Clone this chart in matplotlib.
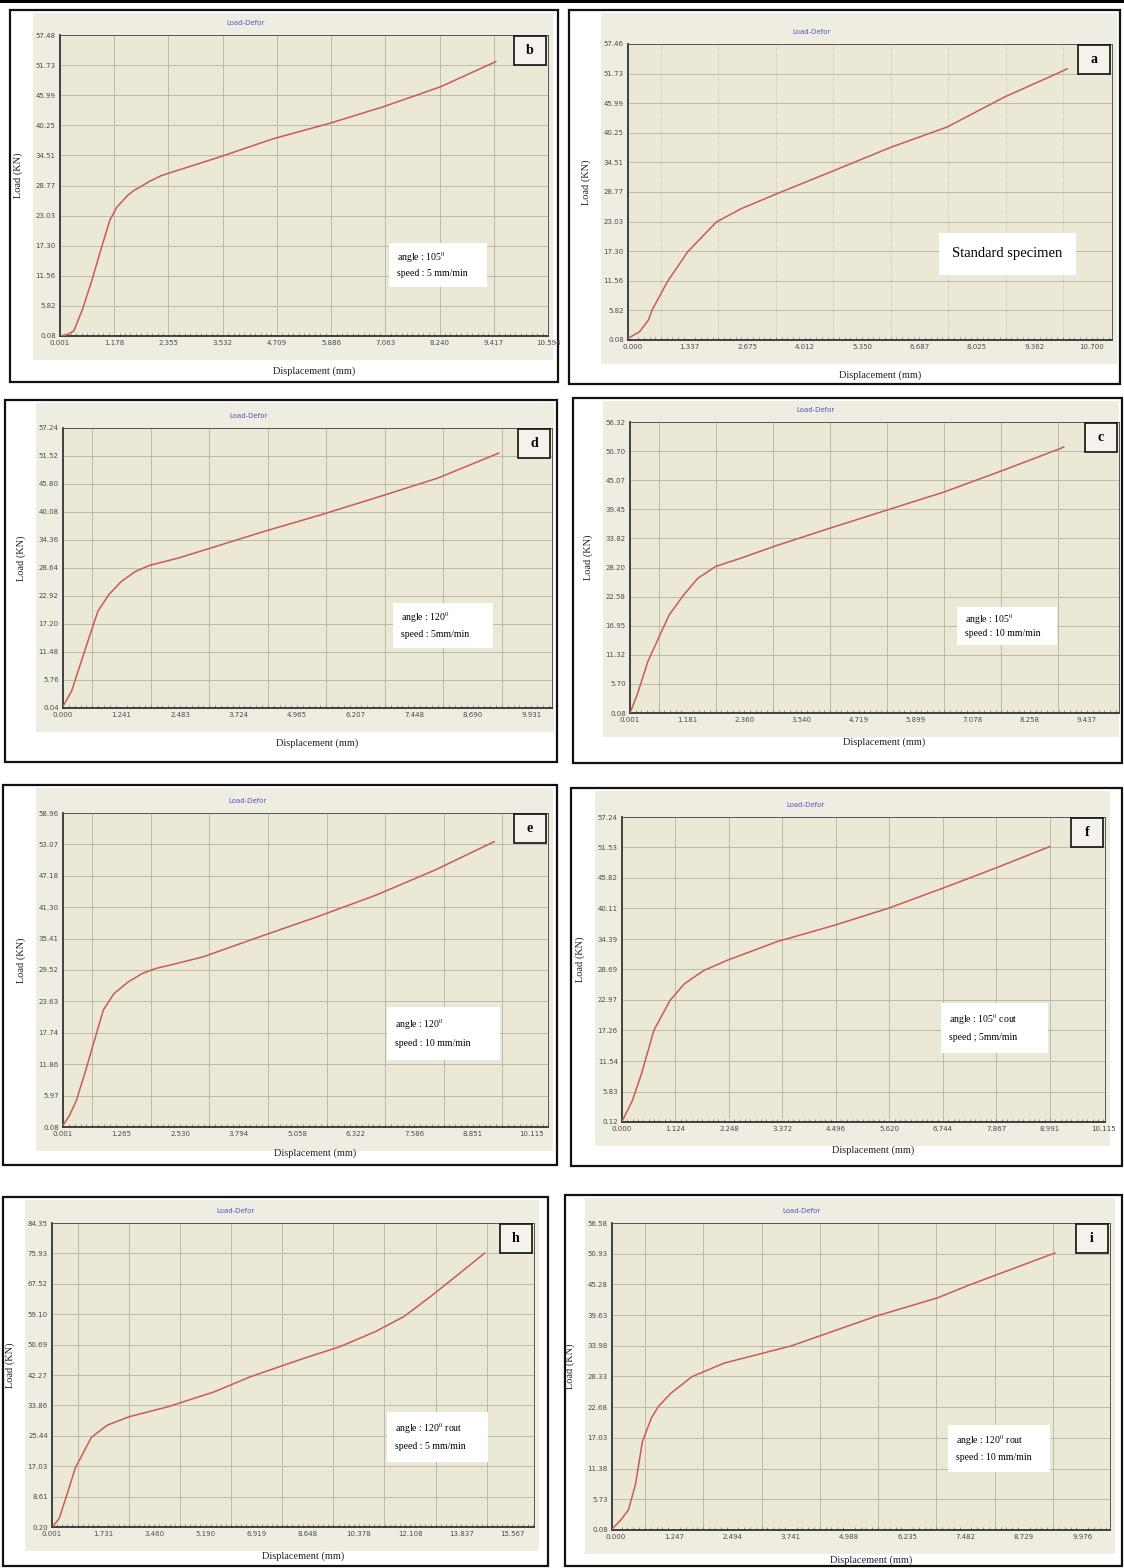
import matplotlib
matplotlib.use('Agg')
import matplotlib.pyplot as plt
from matplotlib.patches import Rectangle
from matplotlib.ticker import FixedLocator

plt.rcParams['font.family'] = ['Liberation Serif', 'DejaVu Serif']
plt.rcParams['mathtext.fontset'] = 'stix'

W, H = 1124, 1568

## Data: displacement (mm) / load (KN) ##
x_a = [-0.10, 0.17, 0.375, 0.46, 0.83, 1.29, 1.96, 2.54, 3.375, 4.71, 6.04, 7.33, 8.67, 9.96, 10.125]
y_a = [0.40, 1.69, 3.95, 5.88, 11.56, 17.17, 22.97, 25.55, 28.46, 32.97, 37.5, 41.36, 47.2, 52.0, 52.65]

x_b = [0.001, 0.15, 0.30, 0.49, 0.69, 0.88, 1.08, 1.23, 1.47, 1.60, 1.74, 1.95, 2.21, 3.46, 4.63, 5.84, 7.02, 8.26, 9.46]
y_b = [0.08, 0.30, 1.04, 5.18, 10.6, 16.3, 22.1, 24.6, 26.9, 27.8, 28.5, 29.6, 30.7, 34.2, 37.7, 40.6, 43.8, 47.6, 52.4]

x_c = [0.001, 0.15, 0.37, 0.59, 0.81, 1.11, 1.40, 1.77, 2.29, 2.95, 4.13, 5.31, 6.49, 7.71, 8.89, 8.96]
y_c = [0.08, 3.62, 10.04, 14.55, 19.04, 22.9, 26.1, 28.4, 30.0, 32.2, 35.8, 39.3, 42.8, 47.0, 51.2, 51.5]

x_d = [0.0, 0.18, 0.365, 0.55, 0.74, 0.97, 1.24, 1.54, 1.84, 2.45, 3.02, 4.27, 5.48, 6.73, 7.95, 9.16, 9.24]
y_d = [0.38, 3.44, 8.89, 14.34, 19.79, 23.19, 25.92, 27.96, 29.19, 30.68, 32.38, 36.13, 39.53, 43.28, 47.02, 51.79, 52.13]

x_e = [0.0, 0.14, 0.29, 0.49, 0.68, 0.87, 1.10, 1.41, 1.72, 2.00, 2.34, 3.03, 4.26, 5.49, 6.77, 8.04, 9.31]
y_e = [0.38, 2.26, 5.08, 10.72, 16.36, 22.0, 25.1, 27.3, 28.9, 29.8, 30.5, 32.0, 35.8, 39.5, 43.6, 48.3, 53.6]

x_f = [0.0, 0.22, 0.41, 0.67, 1.01, 1.31, 1.72, 2.21, 3.26, 4.46, 5.58, 6.71, 7.83, 8.99]
y_f = [0.2, 4.18, 9.17, 17.29, 22.9, 26.0, 28.5, 30.4, 33.9, 36.95, 40.1, 43.8, 47.6, 51.7]

x_h = [0.04, 0.24, 0.48, 0.79, 1.33, 1.87, 2.60, 3.93, 5.50, 6.71, 8.52, 9.73, 10.94, 11.91, 12.88, 13.72, 14.63]
y_h = [0.48, 2.51, 8.52, 16.57, 25.0, 28.4, 30.7, 33.5, 37.65, 41.8, 46.9, 50.1, 54.3, 58.5, 64.5, 70.0, 76.0]

x_i = [-0.08, 0.11, 0.27, 0.42, 0.57, 0.76, 0.91, 1.18, 1.63, 2.32, 3.76, 4.33, 5.59, 6.88, 7.57, 8.10, 9.39]
y_i = [0.26, 1.92, 3.76, 8.37, 16.35, 20.65, 22.8, 25.25, 28.3, 30.8, 33.98, 35.7, 39.5, 42.8, 45.2, 46.9, 51.05]

## Tick labels ##
xt_a = ['0.000', '1.337', '2.675', '4.012', '5.350', '6.687', '8.025', '9.362', '10.700']
yt_a = ['0.08', '5.82', '11.56', '17.30', '23.03', '28.77', '34.51', '40.25', '45.99', '51.73', '57.46']
xt_b = ['0.001', '1.178', '2.355', '3.532', '4.709', '5.886', '7.063', '8.240', '9.417', '10.594']
yt_b = ['0.08', '5.82', '11.56', '17.30', '23.03', '28.77', '34.51', '40.25', '45.99', '51.73', '57.48']
xt_c = ['0.001', '1.181', '2.360', '3.540', '4.719', '5.899', '7.078', '8.258', '9.437']
yt_c = ['0.08', '5.70', '11.32', '16.95', '22.58', '28.20', '33.82', '39.45', '45.07', '50.70', '56.32']
xt_d = ['0.000', '1.241', '2.483', '3.724', '4.965', '6.207', '7.448', '8.690', '9.931']
yt_d = ['0.04', '5.76', '11.48', '17.20', '22.92', '28.64', '34.36', '40.08', '45.80', '51.52', '57.24']
xt_e = ['0.001', '1.265', '2.530', '3.794', '5.058', '6.322', '7.586', '8.851', '10.115']
yt_e = ['0.08', '5.97', '11.86', '17.74', '23.63', '29.52', '35.41', '41.30', '47.18', '53.07', '58.96']
xt_f = ['0.000', '1.124', '2.248', '3.372', '4.496', '5.620', '6.744', '7.867', '8.991', '10.115']
yt_f = ['0.12', '5.83', '11.54', '17.26', '22.97', '28.69', '34.39', '40.11', '45.82', '51.53', '57.24']
xt_h = ['0.001', '1.731', '3.460', '5.190', '6.919', '8.648', '10.378', '12.108', '13.837', '15.567']
yt_h = ['0.20', '8.61', '17.03', '25.44', '33.86', '42.27', '50.69', '59.10', '67.52', '75.93', '84.35']
xt_i = ['0.000', '1.247', '2.494', '3.741', '4.988', '6.235', '7.482', '8.729', '9.976']
yt_i = ['0.08', '5.73', '11.38', '17.03', '22.68', '28.33', '33.98', '39.63', '45.28', '50.93', '56.58']

tags = ['a', 'b', 'c', 'd', 'e', 'f', 'h', 'i']
notes = {
    'a': ['Standard specimen'],
    'b': ['angle : 105$^{0}$', 'speed : 5 mm/min'],
    'c': ['angle : 105$^{0}$', 'speed : 10 mm/min'],
    'd': ['angle : 120$^{0}$', 'speed : 5mm/min'],
    'e': ['angle : 120$^{0}$', 'speed : 10 mm/min'],
    'f': ['angle : 105$^{0}$ cout', 'speed ; 5mm/min'],
    'h': ['angle : 120$^{0}$ rout', 'speed : 5 mm/min'],
    'i': ['angle : 120$^{0}$ rout', 'speed : 10 mm/min'],
}

series = {'a': (x_a, y_a, xt_a, yt_a), 'b': (x_b, y_b, xt_b, yt_b),
          'c': (x_c, y_c, xt_c, yt_c), 'd': (x_d, y_d, xt_d, yt_d),
          'e': (x_e, y_e, xt_e, yt_e), 'f': (x_f, y_f, xt_f, yt_f),
          'h': (x_h, y_h, xt_h, yt_h), 'i': (x_i, y_i, xt_i, yt_i)}

## Layout in image pixels ##
# box, plot area, x range, grid between labels?, note box
layout = {
    'b': dict(box=(10, 10, 558, 382), ax=(60, 35, 548, 336), xlim=(0.001, 10.594), mid=False,
              note=(389, 243, 487, 287), xlab=371),
    'a': dict(box=(569, 10, 1120, 384), ax=(628, 44, 1112, 340), xlim=(-0.10, 11.17), mid=True,
              note=(939, 233, 1076, 275), xlab=375),
    'd': dict(box=(5, 400, 557, 762), ax=(63, 428, 552, 708), xlim=(0.0, 10.37), mid=True,
              note=(393, 603, 493, 648), xlab=743),
    'c': dict(box=(573, 398, 1122, 763), ax=(630, 422, 1119, 713), xlim=(0.001, 10.1), mid=True,
              note=(957, 607, 1057, 645), xlab=742),
    'e': dict(box=(3, 785, 557, 1165), ax=(63, 813, 548, 1127), xlim=(0.0, 10.47), mid=True,
              note=(387, 1007, 500, 1060), xlab=1153),
    'f': dict(box=(571, 788, 1122, 1166), ax=(622, 817, 1105, 1122), xlim=(0.0, 10.15), mid=False,
              note=(941, 1003, 1048, 1053), xlab=1150),
    'h': dict(box=(3, 1197, 548, 1566), ax=(52, 1223, 534, 1527), xlim=(0.0, 16.3), mid=True,
              note=(387, 1412, 488, 1462), xlab=1556),
    'i': dict(box=(565, 1195, 1122, 1566), ax=(612, 1223, 1110, 1530), xlim=(-0.08, 10.57), mid=True,
              note=(948, 1425, 1050, 1472), xlab=1560),
}

beige = '#ebe8d6'
beige_out = '#efede2'
red = '#c85c52'


def fr(x0, y0, x1, y1):
    return [x0 / W, 1 - y1 / H, (x1 - x0) / W, (y1 - y0) / H]


def add_rect(x0, y0, x1, y1, z, **kw):
    r = fr(x0, y0, x1, y1)
    fig.patches.append(Rectangle((r[0], r[1]), r[2], r[3], transform=fig.transFigure,
                                 zorder=z, **kw))


fig = plt.figure(figsize=(W / 100, H / 100), dpi=100)
fig.patch.set_facecolor('white')
# black rule along the top of the page
add_rect(0, 0, W, 3, 0, facecolor='black', edgecolor='none')

for k in tags:
    L = layout[k]
    xs, ys, xt, yt = series[k]
    bx0, by0, bx1, by1 = L['box']
    ax0, ay0, ax1, ay1 = L['ax']

    # panel frame and chart background
    add_rect(bx0, by0, bx1, by1, 0, facecolor='white', edgecolor='#111111', lw=1.6)
    add_rect(ax0 - 27, by0 + 3, min(ax1 + 5, bx1 - 3), ay1 + 24, 0.5,
             facecolor=beige_out, edgecolor='none')

    ax = fig.add_axes(fr(ax0, ay0, ax1, ay1))
    ax.set_zorder(2)
    ax.set_facecolor(beige)
    xv = [float(s) for s in xt]
    yv = [float(s) for s in yt]
    ax.plot(xs, ys, color=red, lw=1.1, zorder=3, solid_joinstyle='round')
    ax.set_xlim(*L['xlim'])
    ax.set_ylim(yv[0], yv[-1])

    ax.set_xticks(xv)
    ax.set_xticklabels(xt)
    ax.set_yticks(yv)
    ax.set_yticklabels(yt)
    ax.tick_params(axis='both', length=0, labelsize=5, labelcolor='#4a4a4a', pad=3)
    # small inward minor ticks along the bottom axis
    step = xv[1] - xv[0]
    ax.xaxis.set_minor_locator(FixedLocator([xv[0] + step * j / 10 for j in range(-2, 10 * len(xv) + 10)]))
    ax.tick_params(axis='x', which='minor', direction='in', length=2, width=0.5, color='#666666')
    for t in ax.get_xticklabels() + ax.get_yticklabels():
        t.set_family('DejaVu Sans')

    # grid
    gx = [(xv[j] + xv[j + 1]) / 2 for j in range(len(xv) - 1)] if L['mid'] else xv[1:-1]
    ls = ':' if k == 'a' else '-'
    for g in gx:
        if L['xlim'][0] < g < L['xlim'][1]:
            ax.axvline(g, color='#b4b4a4', lw=0.6, ls=ls, zorder=1)
    for g in yv[1:-1]:
        ax.axhline(g, color='#b4b4a4', lw=0.6, zorder=1)

    for s in ['left', 'bottom']:
        ax.spines[s].set_color('#333333')
        ax.spines[s].set_linewidth(1.3)
    for s in ['top', 'right']:
        ax.spines[s].set_color('#555555')
        ax.spines[s].set_linewidth(0.7)

    # texts
    cx = (ax0 + ax1) / 2
    fig.text((ax0 + 0.38 * (ax1 - ax0)) / W, 1 - (ay0 - 12) / H, 'Load-Defor', color='#5555bb',
             fontsize=5, family='DejaVu Sans', ha='center', va='center')
    fig.text((cx + 10) / W, 1 - L['xlab'] / H, 'Displacement (mm)', fontsize=7.5,
             ha='center', va='center', color='#222222')
    fig.text((ax0 - 42) / W, 1 - ((ay0 + ay1) / 2 - 10) / H, 'Load (KN)', fontsize=7.5,
             rotation=90, ha='center', va='center', color='#222222')

    # letter tag
    add_rect(ax1 - 34, ay0 + 1, ax1 - 2, ay0 + 30, 5,
             facecolor='#f4f2ea', edgecolor='#111111', lw=1.2)
    fig.text((ax1 - 18) / W, 1 - (ay0 + 15.5) / H, k, fontsize=10, fontweight='bold',
             ha='center', va='center', zorder=6)

    # white note box
    nx0, ny0, nx1, ny1 = L['note']
    add_rect(nx0, ny0, nx1, ny1, 5, facecolor='white', edgecolor='none')
    lines = notes[k]
    if len(lines) == 1:
        fig.text((nx0 + nx1) / 2 / W, 1 - (ny0 + ny1) / 2 / H, lines[0], fontsize=10.5,
                 ha='center', va='center', zorder=6)
    else:
        hgt = ny1 - ny0
        for j, t in enumerate(lines):
            fig.text((nx0 + 8) / W, 1 - (ny0 + hgt * (0.33 + 0.36 * j)) / H, t, fontsize=7,
                     ha='left', va='center', zorder=6)

fig.savefig('out.png', dpi=100, facecolor='white')
